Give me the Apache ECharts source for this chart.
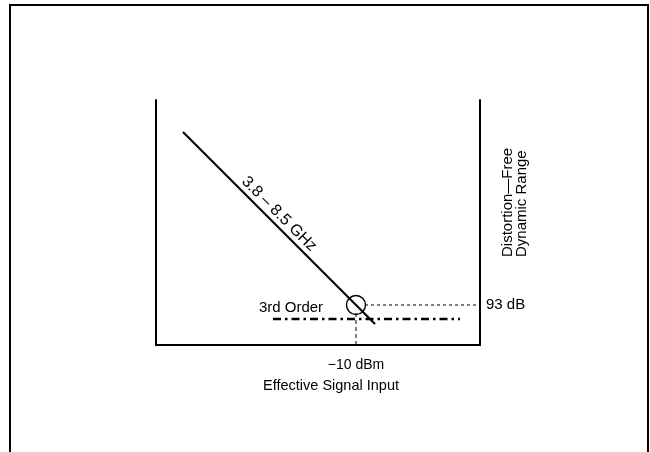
<!DOCTYPE html>
<html>
<head>
<meta charset="utf-8">
<style>
  html, body { margin: 0; padding: 0; background: #fff; }
  #chart { width: 650px; height: 452px; }
</style>
<script src="https://cdn.jsdelivr.net/npm/echarts@6/dist/echarts.min.js"></script>
</head>
<body>
<div id="chart"></div>
<script>
// ---- data (dBm on x, dB on y) ----
const responseLine   = [[-27.3, 110.3], [-8.1, 91.1]];   // 3.8 – 8.5 GHz line
const thirdOrderLine = [[-18.3, 91.6], [0.4, 91.6]];      // 3rd order level
const rangeLeader    = [[-9.1, 93], [2.1, 93]];           // dotted leader to 93 dB
const inputLeader    = [[-10, 92.2], [-10, 89]];          // dashed leader to -10 dBm
const interceptPoint = [[-10, 93]];                       // circled intercept

const xTickValues = [-10];
const xTickLabels = ['−10 dBm'];
const yTickValues = [93];
const yTickLabels = ['93 dB'];

const lineLabel   = '3.8 – 8.5 GHz';
const orderLabel  = '3rd Order';
const xAxisTitle  = 'Effective Signal Input';
const yAxisTitle  = ['Distortion—Free', 'Dynamic Range'];

// ---- chart ----
const FONT = '"Liberation Sans", Arial, Helvetica, sans-serif';
const INK = '#000';
const chart = echarts.init(document.getElementById('chart'), null, { renderer: 'canvas' });

const axisBase = {
  type: 'value',
  axisLine: { show: true, onZero: false, lineStyle: { color: INK, width: 2 } },
  axisTick: { show: false },
  splitLine: { show: false }
};

const option = {
  animation: false,
  backgroundColor: '#fff',
  textStyle: { fontFamily: FONT, color: INK },
  grid: { left: 156, right: 170, top: 100, bottom: 107, containLabel: false },
  xAxis: Object.assign({}, axisBase, {
    min: -30, max: 2.4, interval: 10,
    axisLabel: {
      show: true, margin: 13, fontSize: 14, color: INK, fontFamily: FONT,
      formatter: v => { const i = xTickValues.indexOf(v); return i >= 0 ? xTickLabels[i] : ''; }
    },
    name: xAxisTitle,
    nameLocation: 'middle',
    nameGap: 33,
    nameTextStyle: { fontSize: 14.5, color: INK, fontFamily: FONT, padding: [0, 0, 0, 26] }
  }),
  yAxis: [
    Object.assign({}, axisBase, {
      position: 'left', min: 89, max: 113.5, interval: 1,
      axisLabel: { show: false }
    }),
    Object.assign({}, axisBase, {
      position: 'right', min: 89, max: 113.5, interval: 1,
      axisLabel: {
        show: true, margin: 6, fontSize: 15, color: INK, fontFamily: FONT,
        formatter: v => { const i = yTickValues.indexOf(v); return i >= 0 ? yTickLabels[i] : ''; }
      }
    })
  ],
  series: [
    {
      type: 'line', data: responseLine, showSymbol: false, symbol: 'none',
      lineStyle: { color: INK, width: 2.2 }, silent: true, z: 5
    },
    {
      type: 'line', data: thirdOrderLine, showSymbol: false, symbol: 'none',
      lineStyle: { color: INK, width: 2.4, type: [8, 4, 2.5, 4] }, silent: true, z: 4
    },
    {
      type: 'line', data: rangeLeader, showSymbol: false, symbol: 'none',
      lineStyle: { color: INK, width: 1, type: [3, 3] }, silent: true
    },
    {
      type: 'line', data: inputLeader, showSymbol: false, symbol: 'none',
      lineStyle: { color: INK, width: 1, type: [4, 3] }, silent: true
    },
    {
      type: 'scatter', data: interceptPoint, symbol: 'circle', symbolSize: 19,
      itemStyle: { color: 'rgba(0,0,0,0)', borderColor: INK, borderWidth: 1.4, opacity: 1 },
      silent: true, z: 6
    },
    {
      type: 'scatter', symbolSize: 0, silent: true, z: 7,
      itemStyle: { opacity: 1 },
      data: [{ value: [-17.7, 102.1], label: { formatter: lineLabel, rotate: -45, fontSize: 16 } },
             { value: [-16.5, 92.7], label: { formatter: orderLabel, fontSize: 15 } }],
      label: { show: true, position: 'inside', color: INK, fontFamily: FONT, opacity: 1 }
    }
  ],
  graphic: [
    {
      type: 'rect', silent: true, z: 0,
      shape: { x: 10, y: 5, width: 638, height: 470 },
      style: { fill: 'none', stroke: INK, lineWidth: 2 }
    },
    {
      type: 'text', silent: true,
      x: 515, y: 257, rotation: Math.PI / 2,
      style: {
        text: yAxisTitle.join('\n'), fill: INK, font: '15px ' + FONT,
        align: 'left', verticalAlign: 'middle', lineHeight: 14
      }
    }
  ]
};
chart.setOption(option);
</script>
</body>
</html>
